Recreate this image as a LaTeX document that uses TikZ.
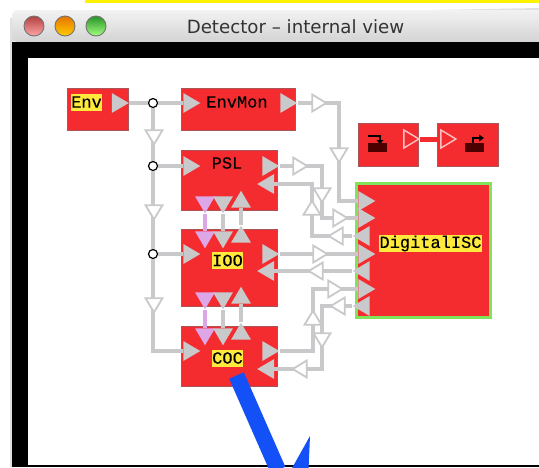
\documentclass[tikz,border=0pt]{standalone}
\usepackage{fontspec}
\setmainfont{DejaVu Sans}
\setmonofont[FakeBold=0.15]{Liberation Mono}
\usepackage{xcolor}
\usetikzlibrary{shapes.geometric}
\definecolor{blockred} {HTML}{F42C30}
\definecolor{blockedge}{HTML}{A9565B}
\definecolor{wiregray} {HTML}{C9C9CB}
\definecolor{labelyel} {HTML}{FFE93C}
\definecolor{selgreen} {HTML}{7FE45A}
\definecolor{pinkport} {HTML}{DDA6E6}
\definecolor{arrowblue}{HTML}{1350F5}
\definecolor{titleink} {HTML}{333333}
\tikzset{
  block/.style={draw=blockedge, line width=1pt, fill=blockred, inner sep=0pt},
  lbl/.style={font=\fontsize{17}{18}\selectfont\ttfamily, inner sep=0pt, text=black},
  lblyel/.style={lbl, fill=labelyel, minimum height=17pt},
  tri/.style={isosceles triangle, isosceles triangle apex angle=60, isosceles triangle stretches,
    minimum width=20pt, minimum height=17pt, inner sep=0pt, anchor=center},
  port/.style={tri, fill=wiregray},
  flow/.style={tri, minimum width=17pt, minimum height=14pt, fill=white, draw=wiregray, line width=1.8pt},
  sigport/.style={tri, fill=blockred, draw=white!70!blockred, line width=1.4pt, minimum width=18pt, minimum height=15pt},
  wire/.style={draw=wiregray, line width=3.6pt},
  junc/.style={circle, draw=black, fill=white, line width=1.2pt, minimum size=9pt, inner sep=0pt},
}
\begin{document}
\begin{tikzpicture}[x=1pt,y=-1pt]
  \useasboundingbox (0,0) rectangle (539,467);
  \clip (0,0) rectangle (539,467);
  % window
  \fill[yellow] (85,0) rectangle (539,2.5);
  \fill[black!12] (10,467) -- (10,18) -- (539,8) -- (539,12) -- (14,20) -- (14,467) -- cycle;
  \shade[top color=white!95!black, bottom color=black!17, rounded corners=6pt]
    (12,42) -- (12,10) -- (560,10) -- (560,42) -- cycle;
  \fill[black] (12,42) rectangle (539,467);
  \fill[white] (28,58) rectangle (539,465);
  \foreach \x/\ct/\cb in {34/red!60!black!75/red!35, 65/orange!90!black/yellow!60!orange, 96/green!50!black!85/green!70!yellow!50}{
    \shade[top color=\ct, bottom color=\cb] (\x,26) circle (10);
    \draw[black!55, line width=0.9pt] (\x,26) circle (10);
  }
  \node[font=\fontsize{18.2}{19}\selectfont, text=titleink, inner sep=0pt] (title) at (295.5,27) {Detector – internal view};

  % blocks
  \node[block, minimum width=61pt, minimum height=42pt] (env) at (97.5,109) {};
  \node[block, minimum width=114pt, minimum height=42pt] (envmon) at (238,109) {};
  \node[block, minimum width=96pt, minimum height=60pt] (psl) at (229,180) {};
  \node[block, minimum width=96pt, minimum height=77pt] (ioo) at (229,267.5) {};
  \node[block, minimum width=96pt, minimum height=60pt] (coc) at (229,356) {};
  \node[block, minimum width=60pt, minimum height=43pt] (source) at (388,144.5) {};
  \node[block, minimum width=61pt, minimum height=43pt] (sink) at (467.5,144.5) {};
  \node[block, draw=selgreen, line width=3pt, minimum width=134pt, minimum height=134pt] (digital) at (423,250) {};

  % gray ports: name/x/y/direction
  \foreach \nm/\x/\y/\r in {envout/117.5/103/0, envmonin/189/103/0, envmonout/286/103/0,
      pslin/189/166/0, pslout/268/166/0, pslback/268.5/184/180,
      pslb/223/202/-90, pslc/241/202/90, iooa/223/237/-90, iooc/241/237/90,
      iooin/189/254/0, ioout/268/254/0, iooback/268.5/271/180,
      ioob/223/298/-90, iood/241/298/90, coca/223/334/-90, cocc/241/334/90,
      cocin/189/351/0, cocout/268/351/0, cocback/268.5/369/180,
      dia/364/201/0, dib/364/218/0, dic/364/236/180, did/364/254/0,
      die/364/271/180, dif/364/289/0, dig/364/306/180}
    \node[port, shape border rotate=\r] (\nm) at (\x,\y) {};
  \node[port, fill=pinkport, shape border rotate=-90] (pink1) at (205,202) {};
  \node[port, fill=pinkport, shape border rotate=-90] (pink2) at (205,237) {};
  \node[port, fill=pinkport, shape border rotate=-90] (pink3) at (205,298) {};
  \node[port, fill=pinkport, shape border rotate=-90] (pink4) at (205,334) {};
  \node[sigport, shape border rotate=0] (srcout) at (409,139) {};
  \node[sigport, shape border rotate=0] (sinkin) at (446,139) {};

  % junctions and bends
  \node[junc] (j1) at (153,103) {};
  \node[junc] (j2) at (153,166) {};
  \node[junc] (j3) at (153,254) {};
  \coordinate (benda) at (339,103);
  \coordinate (bendb) at (322,166);
  \coordinate (bendc) at (312,184);
  \coordinate (bendd) at (313,351);
  \coordinate (bende) at (322,369);

  % wires
  \draw[wire] (envout) -- (j1);
  \draw[wire] (j1) -- (envmonin);
  \draw[wire] (j1) -- (j2);
  \draw[wire] (j2) -- (pslin);
  \draw[wire] (j2) -- (j3);
  \draw[wire] (j3) -- (iooin);
  \draw[wire] (j3) |- (cocin);
  \draw[wire] (envmonout) -- (benda) |- (dia);
  \draw[wire] (pslout) -- (bendb) |- (dib);
  \draw[wire] (pslback) -- (bendc) |- (dic);
  \draw[wire] (ioout) -- (did);
  \draw[wire] (iooback) -- (die);
  \draw[wire] (cocout) -- (bendd) |- (dif);
  \draw[wire] (cocback) -- (bende) |- (dig);
  \draw[wire] (pslb) -- (iooa);
  \draw[wire] (pslc) -- (iooc);
  \draw[wire] (ioob) -- (coca);
  \draw[wire] (iood) -- (cocc);
  \draw[wire, draw=pinkport] (pink1) -- (pink2);
  \draw[wire, draw=pinkport] (pink3) -- (pink4);
  \draw[draw=blockred, line width=5pt] (srcout) -- (sinkin);

  % hollow direction marks
  \foreach \nm/\x/\y/\r in {ma/154/135/-90, mb/154/210/-90, mc/154/303/-90,
      md/317/103/0, me/339/153/-90, mf/298/166/0, mg/322/193/-90, mh/338/218/0,
      mi/312/210/90, mj/338/236/180, mk/318/254/0, ml/318/271/180,
      mm/313/320/90, mn/333/289/0, mo/340/306/180, mp/322/338/-90, mq/302/369/180}
    \node[flow, shape border rotate=\r] (\nm) at (\x,\y) {};

  % labels
  \node[lblyel, minimum width=31pt] (envtxt) at (86.5,102) {Env};
  \node[lbl] (envmontxt) at (237,102) {EnvMon};
  \node[lbl] (psltxt) at (227,163) {PSL};
  \node[lblyel, minimum width=31pt] (iootxt) at (227.5,260.5) {IOO};
  \node[lblyel, minimum width=31pt] (coctxt) at (227.5,358) {COC};
  \node[lblyel, minimum width=103pt] (digitaltxt) at (430.5,243.5) {DigitalISC};

  % source and sink icons
  \fill[black!70!red] (368,143) rectangle (387,152);
  \draw[black, line width=1.6pt] (368,136) -- (380,136) -- (380,141);
  \fill[black] (376.5,140) -- (383.5,140) -- (380,144) -- cycle;
  \fill[black!70!red] (465,143) rectangle (484,152);
  \draw[black, line width=1.6pt] (473,143) -- (473,138) -- (480,138);
  \fill[black] (479,134.5) -- (479,141.5) -- (484,138) -- cycle;

  % big blue arrow
  \coordinate (tailb) at (236.5,375.5);
  \coordinate (headb) at (278,470);
  \draw[arrowblue, line width=16pt] (tailb) -- (headb);
  \fill[arrowblue] (310,436) -- (308.5,470) -- (291,470) -- cycle;
\end{tikzpicture}
\end{document}
